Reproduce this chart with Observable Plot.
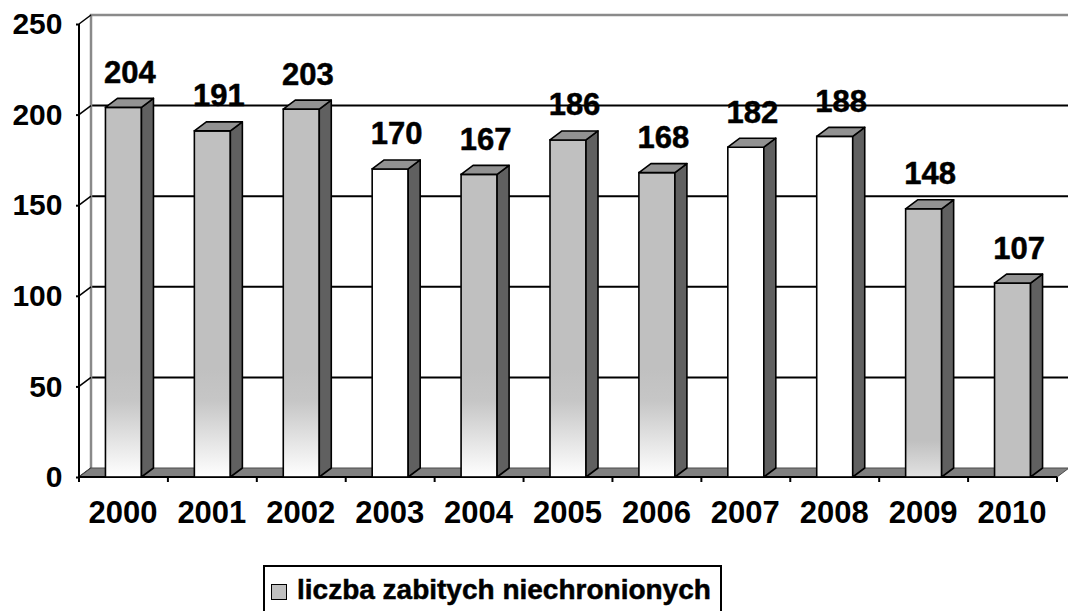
<!DOCTYPE html>
<html><head><meta charset="utf-8">
<script src="https://cdn.jsdelivr.net/npm/d3@7"></script>
<script src="https://cdn.jsdelivr.net/npm/@observablehq/plot@0.6"></script>
<style>
body{margin:0;background:#fff;font-family:Arial,"Liberation Sans",sans-serif;}
#wrap{position:relative;width:1068px;height:611px;overflow:hidden;background:#fff;}
#legend{position:absolute;left:263px;top:565px;width:459px;height:70px;box-sizing:border-box;border:2px solid #000;background:#fff;}
#legend .sw{position:absolute;left:6px;top:17px;width:16px;height:16px;box-sizing:border-box;border:1.5px solid #000;background:#c0c0c0;}
#legend .lb{position:absolute;left:32px;top:9px;font:bold 28px Arial,"Liberation Sans",sans-serif;line-height:1;white-space:nowrap;color:#000;-webkit-text-stroke:0.5px #000;}
</style></head>
<body>
<div id="wrap"><div id="chart"></div><div id="legend"><div class="sw"></div><div class="lb"></div></div></div>
<script>
// ---- data ----
const years = ["2000","2001","2002","2003","2004","2005","2006","2007","2008","2009","2010"];
const values = [204, 191, 203, 170, 167, 186, 168, 182, 188, 148, 107];
const yTicks = [0, 50, 100, 150, 200, 250];
const seriesName = "liczba zabitych niechronionych";

// ---- styling ----
const faceKind = ["fade","fade","fade","white","fade","fade","fade","white","white","light","gray"];
const DX = 12, DY = -9;
const W = 1068, H = 555;
const FONT = 'Arial, "Liberation Sans", sans-serif';

const data = years.map((year, i) => ({year, value: values[i], kind: faceKind[i]}));

function frameMark(index, scales, values, dims) {
  const {x, y} = scales;
  const {width, marginLeft, marginRight} = dims;
  const g = d3.create("svg:g");
  const x0 = marginLeft, x1 = width - marginRight;
  const y0 = y(yTicks[0]), yT = y(yTicks[yTicks.length - 1]);
  // gradients
  const defs = g.append("defs");
  const mk = (id, stops, ya, yb) => {
    const lg = defs.append("linearGradient").attr("id", id)
      .attr("gradientUnits", "userSpaceOnUse").attr("x1", 0).attr("x2", 0).attr("y1", ya).attr("y2", yb);
    for (const [o, c] of stops) lg.append("stop").attr("offset", o).attr("stop-color", c);
  };
  mk("face-fade", [[0, "#c0c0c0"], [0.3, "#c6c6c6"], [1, "#ffffff"]], y(60), y(0));
  mk("face-light", [[0, "#c0c0c0"], [1, "#e2e2e2"]], y(20), y(0));
  mk("face-white", [[0, "#ffffff"], [1, "#ffffff"]], y(250), y(0));
  mk("face-gray", [[0, "#c0c0c0"], [1, "#c0c0c0"]], y(250), y(0));
  // left side wall
  g.append("path").attr("d", `M${x0},${yT}L${x0+DX},${yT+DY}L${x0+DX},${y0+DY}L${x0},${y0}Z`).attr("fill", "#fff");
  // back wall gridlines
  for (const t of yTicks.slice(1, -1)) {
    g.append("line").attr("x1", x0 + DX).attr("x2", x1 + DX + 20).attr("y1", y(t) + DY).attr("y2", y(t) + DY)
      .attr("stroke", "#000").attr("stroke-width", 2);
  }
  // back wall border (top and left)
  g.append("path").attr("d", `M${x0+DX},${y0+DY}V${yT+DY}H${x1+DX+20}`).attr("fill", "none")
    .attr("stroke", "#8a8a8a").attr("stroke-width", 2.5);
  // diagonal connectors
  for (const t of yTicks) {
    g.append("line").attr("x1", x0).attr("y1", y(t)).attr("x2", x0 + DX).attr("y2", y(t) + DY)
      .attr("stroke", "#000").attr("stroke-width", 1.5);
  }
  // floor
  g.append("path").attr("d", `M${x0},${y0}L${x0+DX},${y0+DY}L${x1+DX},${y0+DY}L${x1},${y0}Z`)
    .attr("fill", "#808080").attr("stroke", "#4a4a4a").attr("stroke-width", 1);
  // front axes
  g.append("line").attr("x1", x0).attr("x2", x0).attr("y1", yT).attr("y2", y0 + 1).attr("stroke", "#000").attr("stroke-width", 2);
  g.append("line").attr("x1", x0).attr("x2", x1).attr("y1", y0).attr("y2", y0).attr("stroke", "#000").attr("stroke-width", 2);
  // x ticks at band boundaries
  const bw = x.bandwidth(), st = x.step(), gap = (st - bw) / 2;
  const bounds = years.map(d => x(d) - gap).concat([x(years[years.length - 1]) + bw + gap]);
  for (const b of bounds) {
    g.append("line").attr("x1", b).attr("x2", b).attr("y1", y0).attr("y2", y0 + 5).attr("stroke", "#000").attr("stroke-width", 2);
  }
  return g.node();
}

function sidesMark(index, scales) {
  const {x, y} = scales;
  const g = d3.create("svg:g").attr("stroke", "#000").attr("stroke-width", 1.6).attr("stroke-linejoin", "round");
  const bw = x.bandwidth();
  for (const i of index) {
    const d = data[i];
    const a = x(d.year), b = a + bw, yv = y(d.value), y0 = y(0);
    g.append("path").attr("d", `M${b},${yv}L${b+DX},${yv+DY}L${b+DX},${y0+DY}L${b},${y0}Z`).attr("fill", "#606060");
    g.append("path").attr("d", `M${a},${yv}L${a+DX},${yv+DY}L${b+DX},${yv+DY}L${b},${yv}Z`).attr("fill", "#929292");
  }
  return g.node();
}

const chart = Plot.plot({
  width: W, height: H,
  marginLeft: 79, marginRight: 11, marginTop: 24, marginBottom: H - 477,
  style: {fontFamily: FONT, fontSize: "30px", fontWeight: "bold", background: "#fff", color: "#000"},
  x: {type: "band", domain: years, paddingInner: 0.595, paddingOuter: 0.2975, round: false, label: null},
  y: {domain: [0, 250], label: null},
  color: {type: "identity"},
  marks: [
    frameMark,
    Plot.barY(data, {x: "year", y: "value", fill: d => `url(#face-${d.kind})`, stroke: "#000", strokeWidth: 1.6}),
    Plot.barY(data, {x: "year", y: "value", fill: "none", stroke: "none", render: sidesMark}),
    Plot.axisY({ticks: yTicks, tickSize: 3, tickPadding: 14, strokeWidth: 2, fontSize: 30, fontWeight: "bold", label: null}),
    Plot.axisX({tickSize: 0, tickPadding: 23, fontSize: 31, fontWeight: "bold", label: null, dx: -1}),
    Plot.text(data, {x: "year", y: "value", text: d => String(d.value), dx: 6, dy: -25, lineAnchor: "bottom", fontSize: 31, fontWeight: "bold", fill: "#000", stroke: "#000", strokeWidth: 0.5})
  ]
});
document.getElementById("chart").appendChild(chart);
document.querySelector("#legend .lb").textContent = seriesName;
</script>
</body></html>
